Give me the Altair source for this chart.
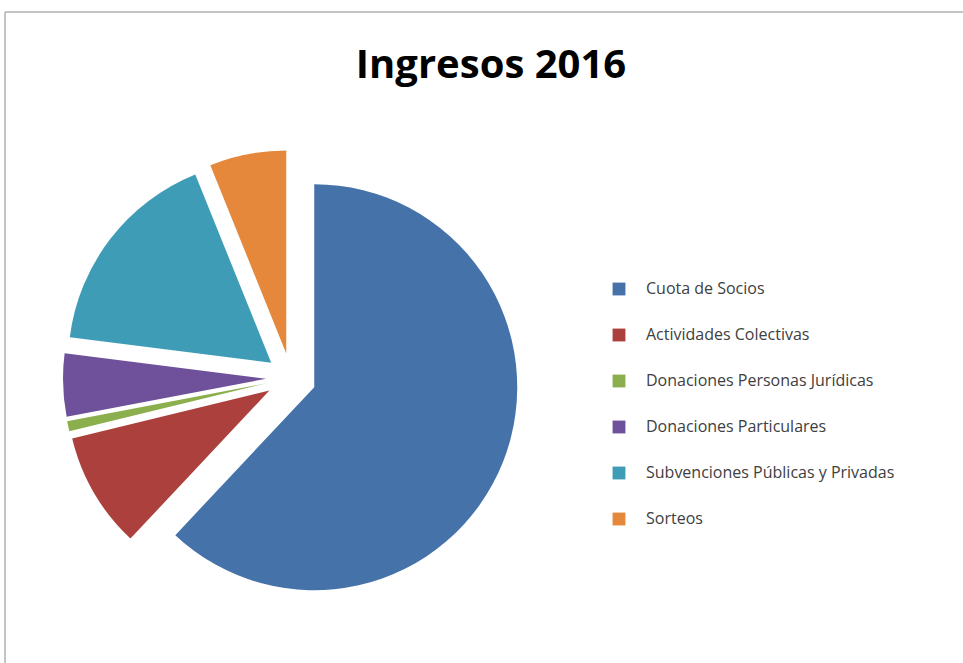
import altair as alt
import pandas as pd

categories = [
    "Cuota de Socios",
    "Actividades Colectivas",
    "Donaciones Personas Jurídicas",
    "Donaciones Particulares",
    "Subvenciones Públicas y Privadas",
    "Sorteos",
]
values = [62.0, 9.2, 0.8, 5.0, 16.9, 6.1]
colors = ["#4672AA", "#AC403D", "#8BAF4C", "#6F509A", "#3E9CB7", "#E5883C"]
title_text = "Ingresos 2016"

df = pd.DataFrame({"category": categories, "value": values, "idx": list(range(len(values)))})

CX, CY, EXPLODE, R = 291, 378, 25, 203

pie = (
    alt.Chart(df)
    .transform_window(cum="sum(value)", sort=[alt.SortField("idx")], frame=[None, 0])
    .transform_joinaggregate(total="sum(value)")
    .transform_calculate(
        a1="datum.cum / datum.total * 2 * PI",
        a0="(datum.cum - datum.value) / datum.total * 2 * PI",
    )
    .transform_calculate(mid="(datum.a0 + datum.a1) / 2")
    .transform_calculate(
        cx=f"{CX} + {EXPLODE} * sin(datum.mid)",
        cy=f"{CY} - {EXPLODE} * cos(datum.mid)",
    )
    .mark_arc(outerRadius=R)
    .encode(
        x=alt.X("cx:Q", scale=None, axis=None),
        y=alt.Y("cy:Q", scale=None, axis=None),
        theta=alt.Theta("a0:Q", scale=None),
        theta2="a1:Q",
        color=alt.Color(
            "category:N",
            scale=alt.Scale(domain=categories, range=colors),
            legend=alt.Legend(
                title=None,
                orient="none",
                legendX=611,
                legendY=281,
                symbolType="square",
                symbolSize=165,
                symbolStrokeWidth=0,
                symbolOffset=0,
                labelFont="Open Sans",
                labelFontSize=16,
                labelColor="#404040",
                labelOffset=19,
                rowPadding=30,
                labelLimit=400,
            ),
        ),
    )
)

title = (
    alt.Chart(pd.DataFrame({"t": [title_text]}))
    .mark_text(font="Open Sans", fontWeight="bold", fontSize=40, color="#000000", baseline="alphabetic", align="center")
    .encode(text="t:N", x=alt.value(491), y=alt.value(78))
)

frame_top = alt.Chart(pd.DataFrame({"a": [0]})).mark_rule(color="#b0b0b0", strokeWidth=1.5).encode(
    x=alt.value(5), x2=alt.value(963), y=alt.value(12)
)
frame_left = alt.Chart(pd.DataFrame({"a": [0]})).mark_rule(color="#b0b0b0", strokeWidth=1.5).encode(
    x=alt.value(5), y=alt.value(12), y2=alt.value(663)
)

chart = (
    alt.layer(frame_top, frame_left, pie, title)
    .properties(width=963, height=663, padding=0, autosize="none", background="white")
    .configure_view(stroke=None)
)

chart.save("out.html", embed_options={"renderer": "svg", "actions": False})
